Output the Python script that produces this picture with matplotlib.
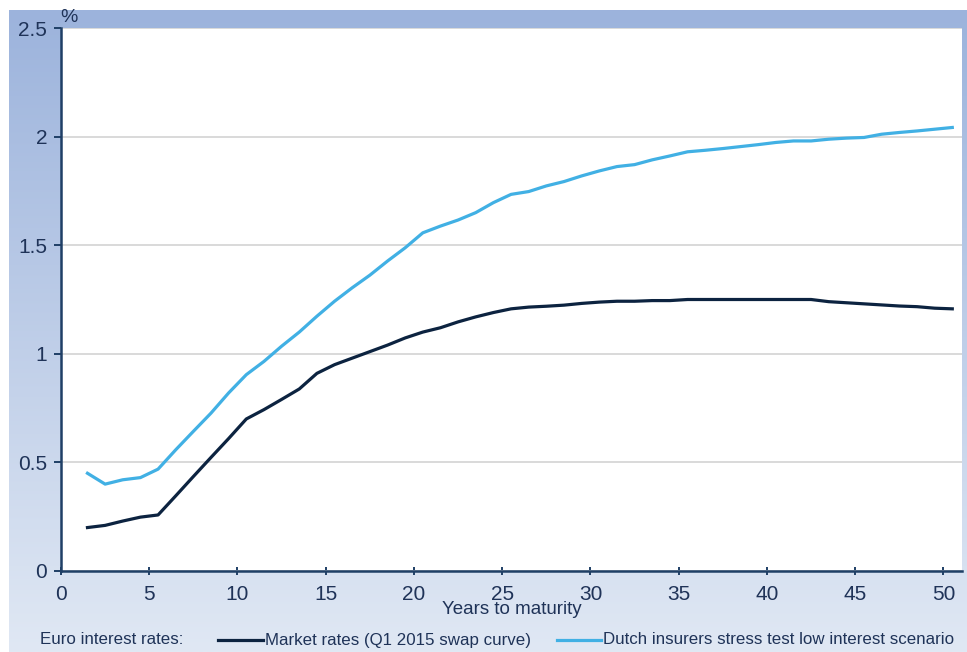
import numpy as np
import matplotlib.pyplot as plt
from matplotlib.lines import Line2D

maturity = np.arange(1, 51)

market_rates = [0.20, 0.21, 0.23, 0.248, 0.258, 0.346, 0.435, 0.523, 0.61, 0.70,
                0.743, 0.79, 0.838, 0.91, 0.95, 0.98, 1.01, 1.04, 1.073, 1.10,
                1.12, 1.147, 1.17, 1.19, 1.207, 1.215, 1.219, 1.224, 1.232, 1.238,
                1.242, 1.242, 1.245, 1.245, 1.25, 1.25, 1.25, 1.25, 1.25, 1.25,
                1.25, 1.25, 1.24, 1.235, 1.23, 1.225, 1.22, 1.217, 1.21, 1.207]

stress_low = [0.45, 0.40, 0.42, 0.43, 0.469, 0.558, 0.643, 0.727, 0.82, 0.904,
              0.965, 1.035, 1.10, 1.173, 1.242, 1.304, 1.362, 1.427, 1.488, 1.557,
              1.588, 1.616, 1.65, 1.696, 1.734, 1.747, 1.773, 1.793, 1.819, 1.842,
              1.862, 1.871, 1.893, 1.911, 1.93, 1.937, 1.945, 1.954, 1.963, 1.973,
              1.98, 1.98, 1.988, 1.993, 1.996, 2.011, 2.019, 2.026, 2.034, 2.042]

x_ticks = [0, 5, 10, 15, 20, 25, 30, 35, 40, 45, 50]
y_ticks = [0, 0.5, 1, 1.5, 2, 2.5]

navy = '#0c2340'
sky = '#41b0e4'
text_col = '#1f3358'

plt.rcParams['font.family'] = ['Liberation Sans', 'DejaVu Sans']

fig = plt.figure(figsize=(9.67, 6.52), dpi=100)
W, H = 967, 652

# blue gradient panel behind the chart
bg = fig.add_axes([9 / W, 0, 1 - 9 / W, 1 - 10 / H])
grad = np.linspace(0, 1, 256).reshape(-1, 1)
top = np.array([0x9c, 0xb3, 0xdc]) / 255
bot = np.array([0xe0, 0xe8, 0xf4]) / 255
img = top + (bot - top) * grad[:, :, None]
bg.imshow(img, aspect='auto', extent=[0, 1, 0, 1], origin='upper')
bg.axis('off')

ax = fig.add_axes([61 / W, (H - 571) / H, (962 - 61) / W, (571 - 28) / H])
ax.set_facecolor('white')

# category-style axis: each maturity sits in the middle of its slot
ax.plot(maturity + 0.5, market_rates, color=navy, lw=2.3, solid_joinstyle='round')
ax.plot(maturity + 0.5, stress_low, color=sky, lw=2.3, solid_joinstyle='round')

ax.set_xlim(0, 51.05)
ax.set_ylim(0, 2.5)
ax.set_xticks(x_ticks)
ax.set_yticks(y_ticks)
ax.set_yticklabels(['0', '0.5', '1', '1.5', '2', '2.5'])
ax.grid(axis='y', color='#d9d9d9', lw=1.4)
ax.set_axisbelow(True)

for side in ['top', 'right']:
    ax.spines[side].set_visible(False)
for side in ['left', 'bottom']:
    ax.spines[side].set_color('#1f3f66')
    ax.spines[side].set_linewidth(1.8)

ax.tick_params(axis='y', direction='out', length=5, width=1.4, color='#1f3f66',
               labelsize=15, labelcolor=text_col, pad=5)
ax.tick_params(axis='x', direction='inout', length=6, width=1.4, color='#1f3f66',
               labelsize=15, labelcolor=text_col, pad=7)

fig.text(69 / W, 1 - 18 / H, '%', fontsize=14, color=text_col, ha='center', va='center')
fig.text(512 / W, 1 - 609 / H, 'Years to maturity', fontsize=13.5, color=text_col,
         ha='center', va='center')

# legend row along the bottom
fig.text(40 / W, 1 - 640 / H, 'Euro interest rates:', fontsize=12.2, color=text_col,
         va='center')
fig.add_artist(Line2D([218 / W, 263 / W], [1 - 640 / H] * 2, color=navy, lw=2.3))
fig.text(265 / W, 1 - 640 / H, 'Market rates (Q1 2015 swap curve)', fontsize=12.2,
         color=text_col, va='center')
fig.add_artist(Line2D([557 / W, 601 / W], [1 - 640 / H] * 2, color=sky, lw=2.3))
fig.text(603 / W, 1 - 640 / H, 'Dutch insurers stress test low interest scenario',
         fontsize=12.2, color=text_col, va='center')

fig.savefig('out.png', dpi=100)
